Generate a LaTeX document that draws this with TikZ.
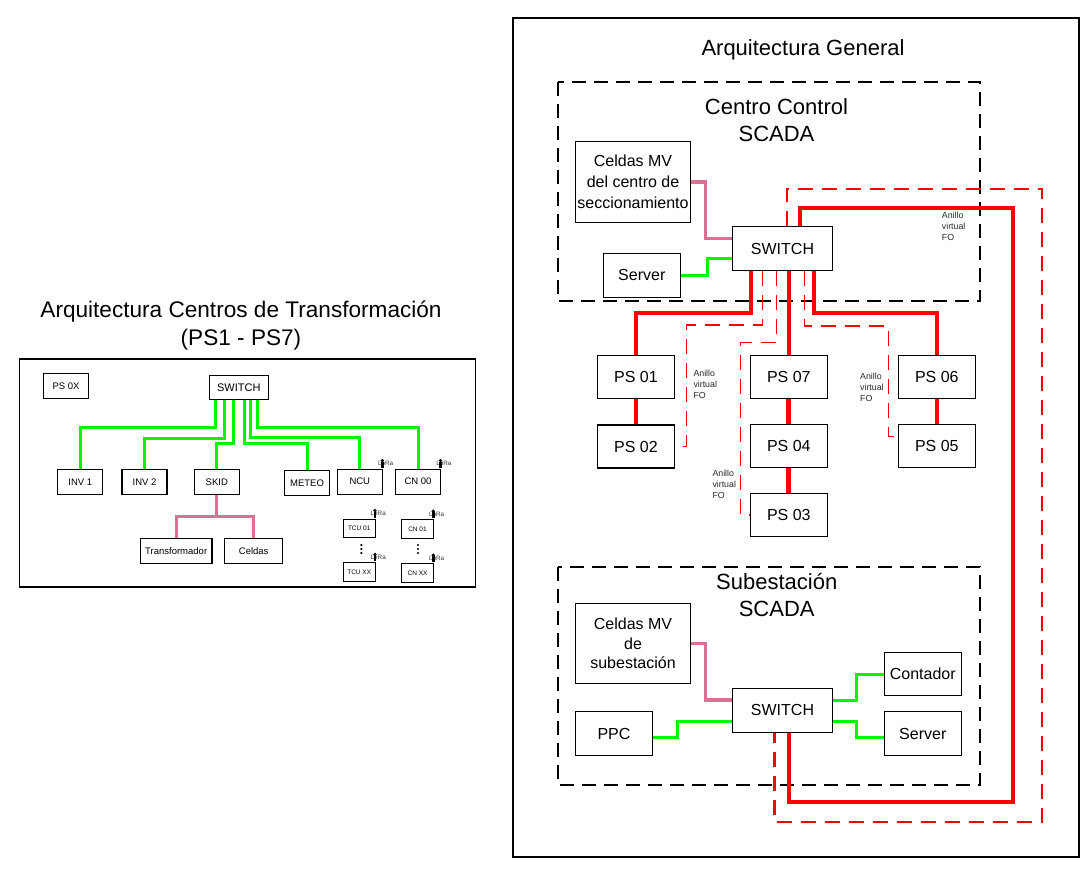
\documentclass[tikz,border=0pt]{standalone}
\usepackage{fontspec}
\setmainfont{Liberation Sans}
\definecolor{lgreen}{RGB}{0,245,0}
\definecolor{lpink}{RGB}{219,112,147}
\begin{document}
\begin{tikzpicture}[x=1pt, y=-1pt,
    box/.style={draw, line width=1.2pt, inner sep=0pt, align=center},
    bigbox/.style={box, font=\fontsize{16}{21}\selectfont},
    psbox/.style={bigbox, minimum width=77pt, minimum height=43pt},
    lbox/.style={box, minimum width=45pt, minimum height=25pt, font=\fontsize{9.5}{11}\selectfont},
    smallbox/.style={box, line width=1pt, minimum width=31.7pt, minimum height=18.5pt, font=\fontsize{6.5}{8}\selectfont},
    ttl/.style={align=center, font=\fontsize{22}{27}\selectfont},
    fo/.style={align=left, anchor=north west, inner sep=0pt, text=black!85, font=\fontsize{8.8}{11}\selectfont},
    lora/.style={inner sep=0pt, text=black!80, font=\fontsize{6.3}{7}\selectfont},
    grn/.style={draw=lgreen, line width=3pt},
    pnk/.style={draw=lpink, line width=3.2pt},
    thk/.style={draw=red, line width=4pt},
    thkk/.style={draw=red, line width=4.8pt},
    fodash/.style={draw=red, line width=1.4pt, dash pattern=on 15pt off 9pt},
    ringdash/.style={draw=red, line width=2.2pt, dash pattern=on 15pt off 9pt},
    zone/.style={draw, line width=2pt, dash pattern=on 14pt off 8pt}]
  \useasboundingbox (0,0) rectangle (1092,877);

  % Centros de Transformacion
  \node[ttl, font=\fontsize{22.6}{28}\selectfont] (ttlct) at (241,326) {Arquitectura Centros de Transformación\\(PS1 - PS7)};
  \draw[line width=1.2pt] (19.5,359) rectangle (475.5,587);
  \node[lbox] (ps0x) at (66,385.8) {PS 0X};
  \node[lbox, minimum width=59pt, minimum height=24pt, font=\fontsize{11}{13}\selectfont] (lsw) at (238.8,387.3) {SWITCH};
  \node[lbox] (inv1) at (80.3,481.8) {INV 1};
  \node[lbox] (inv2) at (144.5,481.8) {INV 2};
  \node[lbox] (skid) at (216.8,482.2) {SKID};
  \node[lbox] (meteo) at (307,483) {METEO};
  \node[lbox] (ncu) at (359.8,481.7) {NCU};
  \node[lbox] (cn00) at (418,481.7) {CN 00};
  \node[lbox, minimum width=71.7pt] (trafo) at (176.2,551) {Transformador};
  \node[lbox, minimum width=58pt] (celdas) at (253.7,551) {Celdas};
  \node[smallbox] (tcu01) at (359.2,528.3) {TCU 01};
  \node[smallbox] (cn01) at (417.5,529) {CN 01};
  \node[smallbox] (tcuxx) at (359.2,572.2) {TCU XX};
  \node[smallbox] (cnxx) at (417.5,573) {CN XX};

  \draw[grn] ([xshift=-23.5pt]lsw.south) -- ++(0,27.4) -| (inv1);
  \draw[grn] ([xshift=-14.5pt]lsw.south) -- ++(0,39) -| (inv2);
  \draw[grn] ([xshift=-5pt]lsw.south) -- ++(0,44) -| (skid);
  \draw[grn] ([xshift=6pt]lsw.south) -- ++(0,43.4) -| (meteo);
  \draw[grn] ([xshift=11.5pt]lsw.south) -- ++(0,38) -| (ncu);
  \draw[grn] ([xshift=19pt]lsw.south) -- ++(0,27.4) -| (cn00);
  \draw[pnk] (skid.south) -- ++(0,21.4) coordinate (skidj);
  \draw[pnk] (skidj) -| (trafo);
  \draw[pnk] (skidj) -| (celdas);

  \foreach \b in {ncu,cn00,tcu01,cn01,tcuxx,cnxx}{
    \node[lora] (lr\b) at ([xshift=2.7pt,yshift=5pt]\b.north east) {LoRa};
    \fill ([xshift=-0.6pt,yshift=8pt]\b.north east) circle (1.8pt);
    \fill ([xshift=-2pt,yshift=1pt]\b.north east) rectangle ++(2.8,-6);
  }
  \foreach \x in {361.3,418}{
    \foreach \y in {545,549,553}{\fill (\x,\y) circle (1.2pt);}
  }

  % Arquitectura General
  \draw[line width=1.2pt] (513,18) rectangle (1079,857);
  \node[ttl] (ttlgen) at (803,50) {Arquitectura General};
  \draw[zone] (558,82) rectangle (980,301);
  \node[ttl] (ttlcc) at (776.5,120.5) {Centro Control\\SCADA};
  \node[bigbox, minimum width=114.6pt, minimum height=80.6pt] (celdcc) at (633,182) {Celdas MV\\del centro de\\seccionamiento};
  \node[bigbox, minimum width=77pt, minimum height=44pt] (servcc) at (641.8,275.3) {Server};
  \node[bigbox, minimum width=100.4pt, minimum height=43.6pt] (swcc) at (782.5,248.5) {SWITCH};

  \node[psbox] (ps01) at (636,377) {PS 01};
  \node[psbox] (ps02) at (636,446.5) {PS 02};
  \node[psbox] (ps07) at (788.8,377) {PS 07};
  \node[psbox] (ps04) at (788.8,446) {PS 04};
  \node[psbox] (ps03) at (788.8,514.8) {PS 03};
  \node[psbox] (ps06) at (936.8,377) {PS 06};
  \node[psbox] (ps05) at (936.8,446) {PS 05};

  \draw[zone] (558,567) rectangle (980,785);
  \node[ttl] (ttlsub) at (776.7,595) {Subestación\\SCADA};
  \node[bigbox, minimum width=114.6pt, minimum height=80pt, font=\fontsize{16}{19.5}\selectfont] (celdsub) at (633,643.3) {Celdas MV\\de\\subestación};
  \node[bigbox, minimum width=76.6pt, minimum height=43.6pt] (ppc) at (614,733.5) {PPC};
  \node[bigbox, minimum width=100.4pt, minimum height=44pt] (swsub) at (782.5,710.3) {SWITCH};
  \node[bigbox, minimum width=77pt, minimum height=42.6pt] (cont) at (922.8,674) {Contador};
  \node[bigbox, minimum width=77pt, minimum height=43.6pt] (servsub) at (922.8,733.5) {Server};

  \draw[pnk] (celdcc.east) -- ++(14.7,0) |- ([yshift=9.8pt]swcc.west);
  \draw[grn] (servcc.east) -- ++(27,0) |- ([yshift=-10.5pt]swcc.west);
  \draw[pnk] (celdsub.east) -- ++(14.7,0) |- ([yshift=10.3pt]swsub.west);
  \draw[grn] ([yshift=-3.8pt]ppc.east) -- ++(24.7,0) |- ([yshift=-11.4pt]swsub.west);
  \draw[grn] ([yshift=9.6pt]swsub.east) -- ++(23.3,0) |- (cont.west);
  \draw[grn] ([yshift=-11pt]swsub.east) -- ++(23.3,0) |- ([yshift=-3.5pt]servsub.west);

  \draw[thk] ([xshift=-31.5pt]swcc.south) -- ++(0,42.4) -| (ps01);
  \draw[thk] (ps01) -- (ps02);
  \draw[thk] (swcc.south -| ps07.north) -- (ps07);
  \draw[thkk] (ps07) -- (ps04);
  \draw[thkk] (ps04) -- (ps03);
  \draw[thk] ([xshift=31.5pt]swcc.south) -- ++(0,42.4) -| (ps06);
  \draw[thk] (ps06) -- (ps05);

  \coordinate (ringne) at (1013.3,208.3);
  \coordinate (ringse) at (1013.3,801.7);
  \draw[thk] ([xshift=17.5pt]swcc.north) |- (ringne) -- (ringse) -| ([xshift=6.2pt]swsub.south);
  \coordinate (dashne) at (1042.3,189);
  \coordinate (dashse) at (1042.3,821.7);
  \draw[ringdash] ([xshift=4.2pt]swcc.north) |- (dashne) -- (dashse) -| ([xshift=-8pt]swsub.south);

  \draw[fodash] ([xshift=-20.2pt]swcc.south) |- ++(-75.6,54) |- (ps02.east);
  \draw[fodash] ([xshift=-5.8pt]swcc.south) |- ++(-36,71.4) |- (ps03.west);
  \draw[fodash] ([xshift=21.8pt]swcc.south) |- ++(84,55) |- ([yshift=9.3pt]ps05.west);

  \node[fo] (fo1) at (693.3,370) {Anillo\\virtual\\FO};
  \node[fo] (fo2) at (712.3,470) {Anillo\\virtual\\FO};
  \node[fo] (fo3) at (860,373) {Anillo\\virtual\\FO};
  \node[fo] (fo4) at (941.7,212) {Anillo\\virtual\\FO};
\end{tikzpicture}
\end{document}
